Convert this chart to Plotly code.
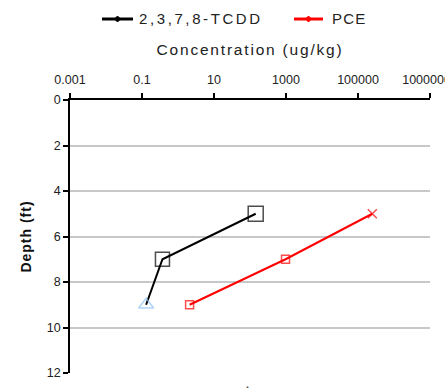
import plotly.graph_objects as go

# Sample depths (ft) and concentrations (ug/kg)
tcdd_depth = [5, 7, 9]
tcdd_conc = [144, 0.37, 0.13]
pce_depth = [5, 7, 9]
pce_conc = [250000, 970, 2.1]

x_tickvals = [0.001, 0.1, 10, 1000, 100000, 10000000]
x_ticktext = ["0.001", "0.1", "10", "1000", "100000", "10000000"]
y_tickvals = [0, 2, 4, 6, 8, 10, 12]

series_names = ["2,3,7,8-TCDD", "PCE"]
series_colors = ["black", "#ff0000"]

font_family = "Liberation Sans, Arial, sans-serif"

W, H = 445, 388
M = dict(l=70, r=15, t=100, b=15)
plot_w = W - M["l"] - M["r"]
plot_h = H - M["t"] - M["b"]


def px(xp):
    return (xp - M["l"]) / plot_w


def py(yp):
    return (H - M["b"] - yp) / plot_h


def spaced(text, ls):
    return f'<span style="letter-spacing:{ls}px">{text}</span>'


fig = go.Figure()

# TCDD profile: open squares, deepest point as a light blue triangle
fig.add_trace(go.Scatter(
    x=tcdd_conc, y=tcdd_depth, mode="lines+markers",
    line=dict(color=series_colors[0], width=2),
    marker=dict(symbol=["square-open", "square-open", "triangle-up-open"],
                size=[15, 14, 13],
                color=["black", "black", "#8ec2f2"],
                line=dict(width=1.5, color=["black", "black", "#8ec2f2"])),
    showlegend=False,
))

# PCE profile
fig.add_trace(go.Scatter(
    x=pce_conc, y=pce_depth, mode="lines+markers",
    line=dict(color=series_colors[1], width=2),
    marker=dict(symbol=["x-thin-open", "square-open", "square-open"],
                size=[9, 8, 8], color=series_colors[1],
                line=dict(width=1.5, color=series_colors[1])),
    showlegend=False,
))

# Legend drawn above the title
legend_y = 19
legend_items = [(102, 133, 137, 2.6), (294, 323, 330, 1.2)]
for (x0, x1, xt, ls), name, color in zip(legend_items, series_names, series_colors):
    fig.add_shape(type="line", xref="paper", yref="paper",
                  x0=px(x0), x1=px(x1), y0=py(legend_y), y1=py(legend_y),
                  line=dict(color=color, width=3))
    fig.add_shape(type="path", xref="paper", yref="paper",
                  xsizemode="pixel", ysizemode="pixel",
                  xanchor=px((x0 + x1) / 2), yanchor=py(legend_y),
                  path="M -3 0 L 0 3 L 3 0 L 0 -3 Z",
                  fillcolor=color, line=dict(color=color, width=1))
    fig.add_annotation(text=spaced(name, ls), xref="paper", yref="paper",
                       x=px(xt), y=py(legend_y), xanchor="left", yanchor="middle",
                       showarrow=False, font=dict(size=15, color="#222222"))

fig.add_annotation(
    text="▲", xref="paper", yref="paper", x=0.494, y=-0.03,
    xanchor="center", yanchor="top", showarrow=False,
    font=dict(size=9, color="#555555"),
)

fig.update_layout(
    width=W, height=H,
    margin=M,
    paper_bgcolor="white", plot_bgcolor="white",
    font=dict(family=font_family, color="#222222"),
    showlegend=False,
    xaxis=dict(
        type="log", range=[-3, 7], side="top", automargin=False,
        tickvals=x_tickvals, ticktext=x_ticktext,
        tickfont=dict(size=12.5, color="#222222"),
        ticklabeloverflow="allow", ticklabelstandoff=4,
        showline=True, linecolor="black", linewidth=1.5,
        ticks="outside", ticklen=5, tickcolor="black", tickwidth=1.5,
        showgrid=False, zeroline=False,
        title=dict(text=spaced("Concentration (ug/kg)", 1.8),
                   font=dict(size=15.5, color="#222222"), standoff=14),
    ),
    yaxis=dict(
        range=[12, 0], tickvals=y_tickvals, automargin=False,
        tickfont=dict(size=12.5, color="#222222"),
        showline=True, linecolor="black", linewidth=1.5,
        ticks="outside", ticklen=5, tickcolor="black", tickwidth=1.5,
        showgrid=True, gridcolor="#c8c8c8", gridwidth=1.5, zeroline=False,
        title=dict(text="<b>" + spaced("Depth (ft)", 1.0) + "</b>",
                   font=dict(size=14, color="#111111"), standoff=12),
    ),
)

fig.write_html("out.html")
